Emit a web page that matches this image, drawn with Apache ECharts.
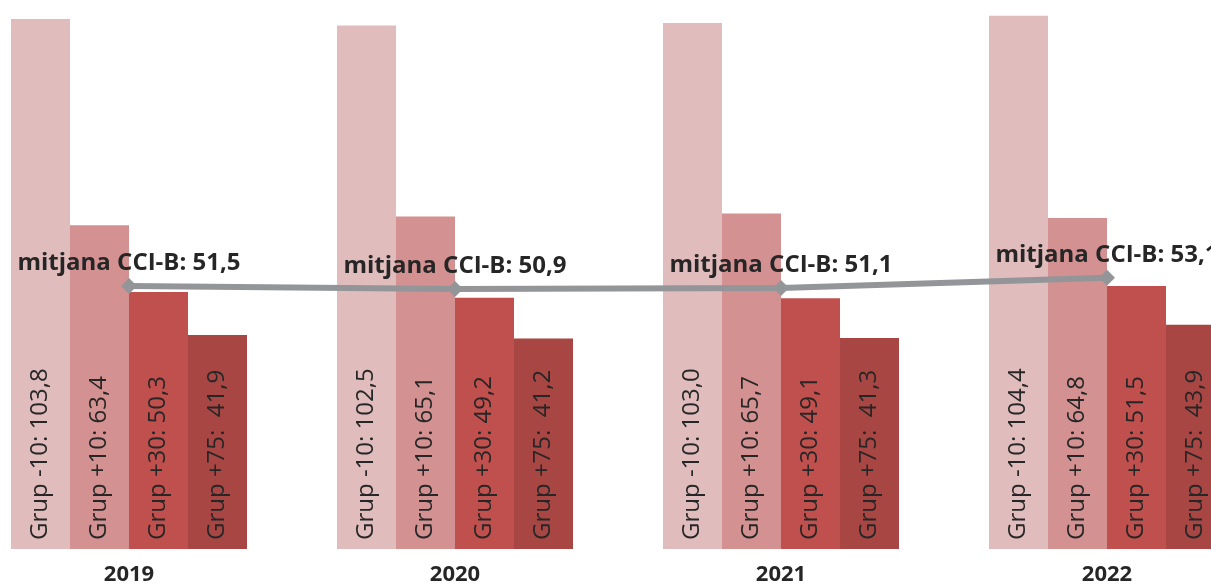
<!DOCTYPE html>
<html>
<head>
<meta charset="utf-8">
<script src="https://cdn.jsdelivr.net/npm/echarts@6/dist/echarts.min.js"></script>
<style>
  html, body { margin: 0; padding: 0; background: #fff; }
  #chart { width: 1211px; height: 585px; }
</style>
</head>
<body>
<div id="chart"></div>
<script>
var years = ['2019', '2020', '2021', '2022'];
var grupNames = ['Grup -10: ', 'Grup +10: ', 'Grup +30: ', 'Grup +75:  '];
var grupMenys10 = [103.8, 102.5, 103.0, 104.4];
var grupMes10 = [63.4, 65.1, 65.7, 64.8];
var grupMes30 = [50.3, 49.2, 49.1, 51.5];
var grupMes75 = [41.9, 41.2, 41.3, 43.9];
var mitjana = [51.5, 50.9, 51.1, 53.1];

var colors = ['#e0bcbc', '#d39191', '#c0504d', '#a84644'];

function fmt(v) {
    return v.toFixed(1).replace('.', ',');
}

function barSeries(idx, data) {
    return {
        type: 'bar',
        data: data,
        barWidth: 59,
        barGap: '0%',
        itemStyle: {color: colors[idx]},
        label: {
            show: true,
            position: 'insideBottom',
            rotate: 90,
            align: 'left',
            verticalAlign: 'middle',
            distance: 9,
            color: '#262626',
            fontFamily: 'Open Sans',
            fontSize: 24,
            formatter: function (p) {
                return grupNames[idx] + fmt(p.value);
            }
        },
        z: 2
    };
}

var chart = echarts.init(document.getElementById('chart'));
chart.setOption({
    animation: false,
    grid: {
        left: -34,
        top: 0,
        width: 1304,
        height: 549,
        outerBoundsMode: 'none',
        containLabel: false
    },
    xAxis: {
        type: 'category',
        data: years,
        axisLine: {show: false},
        axisTick: {show: false},
        axisLabel: {
            margin: 15,
            color: '#262626',
            fontFamily: 'Open Sans',
            fontWeight: 'bold',
            fontSize: 22
        }
    },
    yAxis: {
        type: 'value',
        min: 0,
        max: 107.5,
        show: false,
        splitLine: {show: false}
    },
    series: [
        barSeries(0, grupMenys10),
        barSeries(1, grupMes10),
        barSeries(2, grupMes30),
        barSeries(3, grupMes75),
        {
            type: 'line',
            data: mitjana,
            symbol: 'diamond',
            symbolSize: 16,
            lineStyle: {color: '#939598', width: 6},
            itemStyle: {color: '#939598'},
            label: {
                show: true,
                position: 'top',
                distance: 3,
                color: '#262626',
                fontFamily: 'Open Sans',
                fontWeight: 'bold',
                fontSize: 24,
                formatter: function (p) {
                    return 'mitjana CCI-B: ' + fmt(p.value);
                }
            },
            z: 5
        }
    ]
});
</script>
</body>
</html>
